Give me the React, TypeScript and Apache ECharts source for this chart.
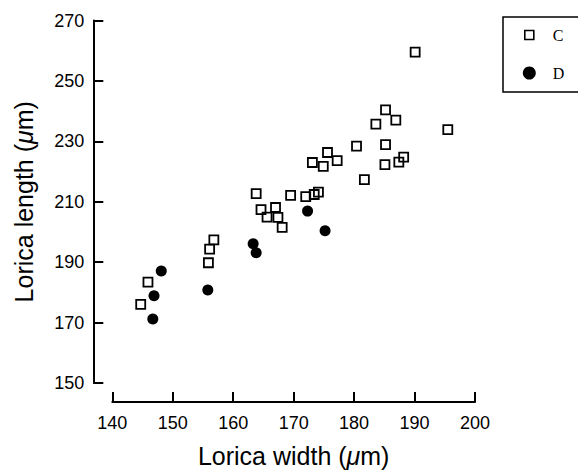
import React, { useEffect, useRef } from "react";
import * as echarts from "echarts";

// Group C (open squares): lorica width, lorica length (µm)
const cWidth = [144.7, 145.9, 155.9, 156.1, 156.8, 163.8, 164.6, 165.6, 167.0, 167.4, 168.1, 169.5, 172.0, 173.4, 174.1, 173.1, 174.9, 175.6, 177.2, 180.4, 181.7, 183.6, 185.2, 186.9, 185.2, 185.1, 187.4, 188.2, 190.1, 195.5];
const cLength = [176.0, 183.4, 189.8, 194.3, 197.4, 212.7, 207.4, 204.9, 208.1, 204.8, 201.5, 212.1, 211.7, 212.4, 213.2, 223.0, 221.7, 226.3, 223.6, 228.4, 217.3, 235.7, 240.4, 237.0, 228.9, 222.3, 223.1, 224.8, 259.5, 233.9];

// Group D (filled circles)
const dWidth = [146.7, 146.9, 148.1, 155.8, 163.3, 163.8, 172.3, 175.2];
const dLength = [171.2, 178.9, 187.1, 180.8, 196.1, 193.1, 206.9, 200.4];

const seriesNames = ["C", "D"];
const xTitle = "Lorica width ({i|μ}m)";
const yTitle = "Lorica length ({i|μ}m)";

const sans = "Arial, 'Liberation Sans', Helvetica, sans-serif";

export default function App() {
  const ref = useRef<HTMLDivElement>(null);

  useEffect(() => {
    if (!ref.current) return;
    const chart = echarts.init(ref.current, null, { renderer: "svg" });
    const cData = cWidth.map((w, i) => [w, cLength[i]]);
    const dData = dWidth.map((w, i) => [w, dLength[i]]);

    const axisLine = { show: true, lineStyle: { color: "#000", width: 2 } };
    const nameRich = {
      i: { fontFamily: sans, fontSize: 25, fontStyle: "italic" as const, color: "#000" },
    };

    chart.setOption({
      animation: false,
      backgroundColor: "#fff",
      grid: { left: 112.3, right: 103, top: 20.5, bottom: 89.7, containLabel: false },
      legend: {
        orient: "vertical",
        left: 503,
        top: 17,
        padding: [10, 40, 11, 19],
        borderColor: "#000",
        borderWidth: 1.5,
        itemWidth: 13,
        itemHeight: 13,
        itemGap: 22,
        textStyle: {
          fontFamily: "'Liberation Serif', 'Times New Roman', serif",
          fontSize: 16,
          lineHeight: 15,
          color: "#000",
          padding: [0, 0, 0, 12],
        },
        data: [
          {
            name: seriesNames[0],
            icon: "path://M0,0M2,2L11,2L11,11L2,11ZM13,13",
            itemStyle: { color: "rgba(0,0,0,0)", borderColor: "#000", borderWidth: 1.6 },
          },
          { name: seriesNames[1], icon: "circle", itemStyle: { color: "#000" } },
        ],
      },
      xAxis: {
        type: "value",
        min: 140,
        max: 200,
        interval: 10,
        offset: 19,
        axisLine,
        axisTick: { show: true, inside: true, length: 10, lineStyle: { color: "#000", width: 2 } },
        axisLabel: { fontFamily: sans, fontSize: 18, color: "#000", margin: 12 },
        splitLine: { show: false },
        name: xTitle,
        nameLocation: "middle",
        nameGap: 41,
        nameTextStyle: { fontFamily: sans, fontSize: 25, color: "#000", rich: nameRich },
      },
      yAxis: {
        type: "value",
        min: 150,
        max: 270,
        interval: 20,
        offset: 19,
        axisLine,
        axisTick: { show: true, inside: true, length: 10, lineStyle: { color: "#000", width: 2 } },
        axisLabel: { fontFamily: sans, fontSize: 18, color: "#000", margin: 9 },
        splitLine: { show: false },
        name: yTitle,
        nameLocation: "middle",
        nameGap: 57,
        nameTextStyle: { fontFamily: sans, fontSize: 25, color: "#000", rich: nameRich },
      },
      series: [
        {
          name: seriesNames[0],
          type: "scatter",
          data: cData,
          symbol: "rect",
          symbolSize: 9,
          itemStyle: { color: "rgba(0,0,0,0)", borderColor: "#000", borderWidth: 1.8, opacity: 1 },
          emphasis: { disabled: true },
        },
        {
          name: seriesNames[1],
          type: "scatter",
          data: dData,
          symbol: "circle",
          symbolSize: 11,
          itemStyle: { color: "#000", opacity: 1 },
          emphasis: { disabled: true },
        },
      ],
    });
    return () => chart.dispose();
  }, []);

  return (
    <div
      ref={ref}
      style={{ position: "fixed", left: 0, top: 0, width: 578, height: 473, background: "#fff" }}
    />
  );
}
